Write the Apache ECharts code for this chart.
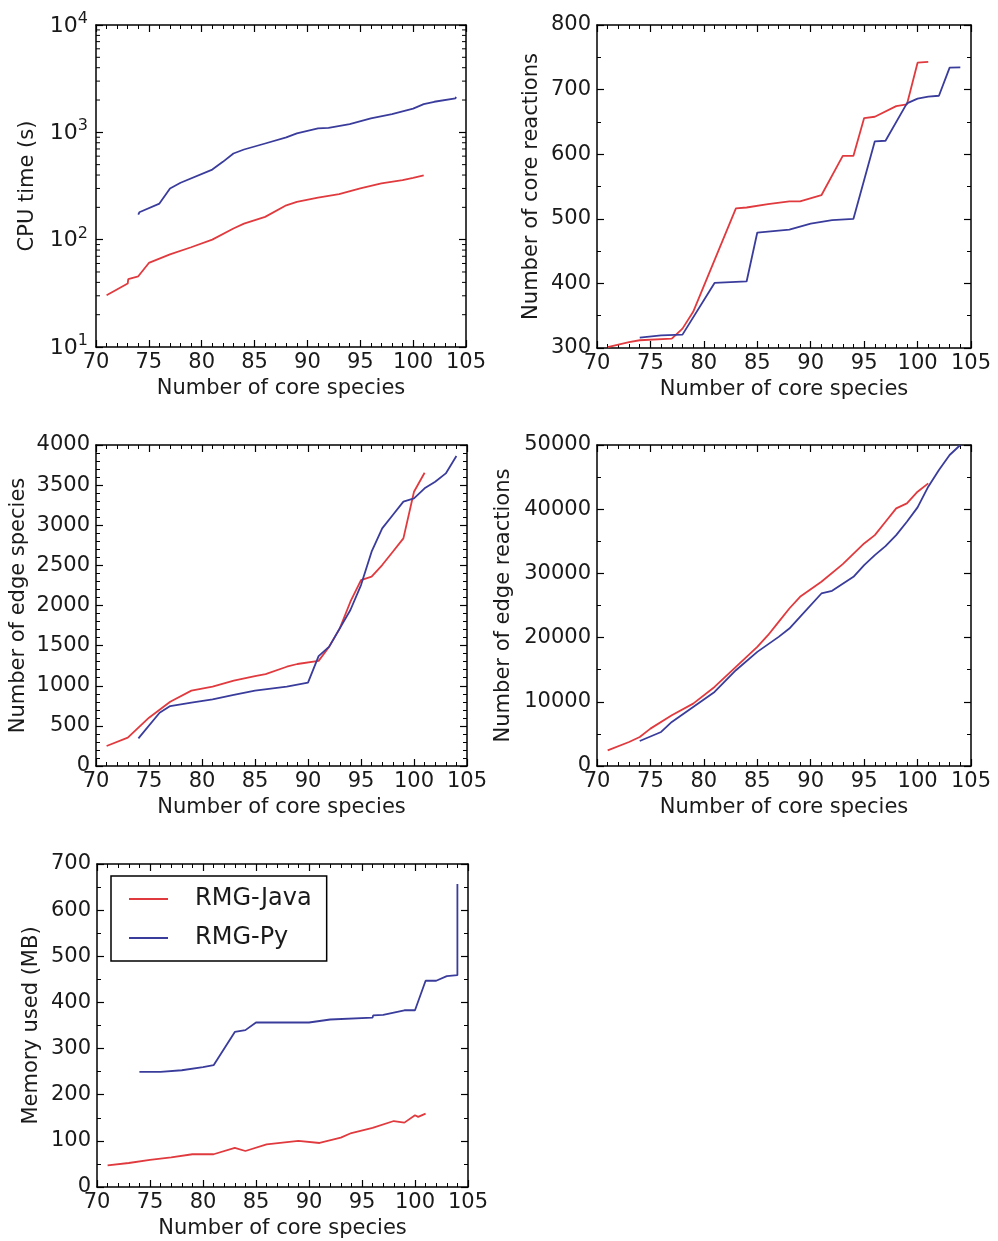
<!DOCTYPE html>
<html>
<head>
<meta charset="utf-8">
<script src="https://cdn.jsdelivr.net/npm/echarts@6/dist/echarts.min.js"></script>
<style>
html,body{margin:0;padding:0;background:#fff;}
#c{width:998px;height:1241px;}
</style>
</head>
<body>
<div id="c"></div>
<script>
// ---------------- DATA ----------------
const seriesNames = ['RMG-Java', 'RMG-Py'];
const xTicks = [70, 75, 80, 85, 90, 95, 100, 105];
const xLabel = 'Number of core species';
const yLabels = ['CPU time (s)', 'Number of core reactions', 'Number of edge species', 'Number of edge reactions', 'Memory used (MB)'];
const logMinorTicks = [20,30,40,50,60,70,80,90,200,300,400,500,600,700,800,900,2000,3000,4000,5000,6000,7000,8000,9000];

const cpuJava = [[71,30.3],[73,39],[73.05,43],[74,45.6],[75,60.7],[77,73],[79,85],[81,100],[83,127],[84,141],[86,163],[88,209],[89,225],[91,247],[93,266],[93.05,275],[95,300],[97,334],[99,358],[100,377],[100.1,390],[101,398]];
const cpuPy = [[74,171],[74.1,180],[76,217],[77,300],[78,339],[81,450],[82,531],[83,635],[84,692],[86,787],[88,896],[89,977],[91,1087],[92,1100],[94,1191],[96,1348],[98,1480],[100,1665],[101,1832],[102,1927],[104,2070],[104.05,2140]];

const coreRxnJava = [[71,301.5],[73,309],[74,312],[77,314.5],[78,330],[79,356],[83,516],[84,517.5],[86,522.6],[88,527],[89,527],[91,536.5],[93,597.5],[94,597.5],[95,656],[96,658],[98,674.5],[99,677],[100,741.6],[101,743]];
const coreRxnPy = [[74,316],[76,319.6],[78,320.7],[81,400.7],[84,403],[85,478.7],[88,483.3],[90,492.7],[92,497.8],[94,500],[96,620],[97,620.8],[99,678.6],[100,686],[101,689],[102,690.5],[103,734],[104,734.5]];

const edgeSpcJava = [[71,249],[73,353],[75,602],[77,801],[79,939],[81,988],[83,1063],[85,1121],[86,1146],[88,1237],[89,1271],[91,1310],[92,1487],[93,1715],[94,2047],[95,2317],[96,2359],[97,2504],[98,2670],[99,2836],[100,3418],[101,3654]];
const edgeSpcPy = [[74,345],[76,664],[77,747],[79,789],[81,830],[83,885],[85,939],[88,988],[90,1038],[91,1370],[92,1487],[94,1944],[95,2255],[96,2670],[97,2961],[98,3127],[99,3294],[100,3335],[101,3460],[102,3543],[103,3646],[104,3862]];

const edgeRxnJava = [[71,2443],[73,3742],[74,4522],[75,5821],[77,7900],[79,9719],[81,12318],[83,15437],[85,18555],[86,20374],[87,22453],[88,24532],[89,26351],[91,28690],[93,31445],[95,34667],[96,35967],[97,38046],[98,40125],[99,40904],[100,42723],[101,44023]];
const edgeRxnPy = [[74,3898],[76,5301],[77,6861],[79,9200],[81,11538],[83,14917],[85,17775],[87,20114],[88,21414],[89,23233],[91,26871],[92,27287],[94,29470],[95,31289],[96,32848],[97,34252],[98,35967],[99,38046],[100,40281],[101,43503],[102,46102],[103,48441],[104,50000]];

const memJava = [[71,47],[73,52],[75,59],[77,64],[79,71],[81,71],[83,85],[84,78],[86,92.5],[89,100],[91,95.4],[93,107],[94,117],[96,128],[98,143],[99,139.5],[100,155.5],[100.3,152],[101,159]];
const memPy = [[74,249.5],[76,249.5],[78,253],[80,260],[81,264],[83,336],[84,340],[85,356.5],[90,356.5],[92,363],[92.05,367],[96,367],[96.05,372],[97,373],[99,383],[100,383],[101,447],[102,447],[103,457],[104,459],[104,656.5]];

// ---------------- STYLE / LAYOUT ----------------
const FONT = 'DejaVu Sans';
const TXT = '#1a1a1a';
const RED = '#e03a3e';
const BLUE = '#3a3c9c';

const grids = [
  {left: 96, top: 25, width: 370, height: 322},
  {left: 597, top: 25, width: 374, height: 323},
  {left: 96, top: 445, width: 371, height: 321},
  {left: 597, top: 445, width: 374, height: 321},
  {left: 97, top: 864, width: 371, height: 323}
];
const yCfg = [
  {type: 'log', min: 10, max: 10000, nameGap: 58},
  {type: 'value', min: 300, max: 800, interval: 100, minor: 2, nameGap: 55},
  {type: 'value', min: 0, max: 4000, interval: 500, minor: 5, nameGap: 67},
  {type: 'value', min: 0, max: 50000, interval: 10000, minor: 2, nameGap: 83},
  {type: 'value', min: 0, max: 700, interval: 100, minor: 2, nameGap: 55}
];
const data = [[cpuJava, cpuPy], [coreRxnJava, coreRxnPy], [edgeSpcJava, edgeSpcPy], [edgeRxnJava, edgeRxnPy], [memJava, memPy]];

const axisLine = {show: true, onZero: false, lineStyle: {color: '#000', width: 1.5}};
const tick = {show: true, inside: true, length: 7, lineStyle: {color: '#000', width: 1.2}};
const minorTickStyle = {color: '#000', width: 1};
const labelStyle = {color: TXT, fontFamily: FONT, fontSize: 21};
const plain = v => String(v);

const xAxes = [], yAxes = [], series = [];
grids.forEach((g, i) => {
  const xBase = {type: 'value', gridIndex: i, min: 70, max: 105, interval: 5,
    axisLine: axisLine, axisTick: tick, splitLine: {show: false},
    minorTick: {show: true, splitNumber: 5, length: 4, lineStyle: minorTickStyle}};
  xAxes.push(Object.assign({}, xBase, {position: 'bottom', name: xLabel, nameLocation: 'middle', nameGap: 31,
    nameTextStyle: {color: TXT, fontFamily: FONT, fontSize: 21},
    axisLabel: Object.assign({margin: 5, formatter: plain}, labelStyle)}));
  xAxes.push(Object.assign({}, xBase, {position: 'top', axisLabel: {show: false}}));

  const c = yCfg[i];
  const yBase = {type: c.type, gridIndex: i, min: c.min, max: c.max,
    axisLine: axisLine, axisTick: tick, splitLine: {show: false}};
  if (c.type === 'log') {
    yBase.logBase = 10;
    yBase.minorTick = {show: false};
  } else {
    yBase.interval = c.interval;
    yBase.minorTick = {show: true, splitNumber: c.minor, length: 4, lineStyle: minorTickStyle};
  }
  const yLab = Object.assign({margin: 6, formatter: plain}, labelStyle);
  if (c.type === 'log') {
    yLab.margin = 8;
    yLab.formatter = v => '{b|10}{s|' + Math.round(Math.log10(v)) + '}';
    yLab.rich = {
      b: {fontFamily: FONT, fontSize: 22, color: TXT, padding: [4, 0, 2, 0]},
      s: {fontFamily: FONT, fontSize: 16, color: TXT, verticalAlign: 'top'}
    };
  }
  yAxes.push(Object.assign({}, yBase, {position: 'left', name: yLabels[i], nameLocation: 'middle', nameGap: c.nameGap,
    nameRotate: 90, nameTextStyle: {color: TXT, fontFamily: FONT, fontSize: 21}, axisLabel: yLab}));
  yAxes.push(Object.assign({}, yBase, {position: 'right', axisLabel: {show: false}}));

  data[i].forEach((d, k) => {
    series.push({type: 'line', name: seriesNames[k], xAxisIndex: 2 * i, yAxisIndex: 2 * i,
      data: d, showSymbol: false, symbol: 'none', animation: false,
      lineStyle: {color: k === 0 ? RED : BLUE, width: 1.8}, itemStyle: {color: k === 0 ? RED : BLUE}});
  });
});

// log-axis minor ticks (matplotlib style 2..9), placed through the axis scale
series.push({
  type: 'custom', xAxisIndex: 0, yAxisIndex: 0, silent: true, animation: false, clip: false,
  data: logMinorTicks.map(v => [70, v]),
  renderItem: function (params, api) {
    const v = api.value(1);
    const l = api.coord([70, v]);
    const r = api.coord([105, v]);
    const st = {stroke: '#000', lineWidth: 1};
    return {type: 'group', children: [
      {type: 'line', shape: {x1: l[0], y1: l[1], x2: l[0] + 4, y2: l[1]}, style: st},
      {type: 'line', shape: {x1: r[0], y1: r[1], x2: r[0] - 4, y2: r[1]}, style: st}
    ]};
  }
});

const option = {
  animation: false,
  backgroundColor: '#fff',
  grid: grids,
  xAxis: xAxes,
  yAxis: yAxes,
  legend: {
    data: seriesNames,
    orient: 'vertical',
    left: 111, top: 876,
    padding: [11, 15, 11, 18],
    itemWidth: 39, itemHeight: 14, itemGap: 15,
    borderColor: '#000', borderWidth: 1.5,
    backgroundColor: '#fff',
    textStyle: {color: TXT, fontFamily: FONT, fontSize: 24, padding: [0, 0, 0, 22]},
    icon: 'path://M0,6 L40,6 L40,8 L0,8 Z'
  },
  series: series
};

const chart = echarts.init(document.getElementById('c'), null, {renderer: 'canvas'});
chart.setOption(option);
</script>
</body>
</html>
